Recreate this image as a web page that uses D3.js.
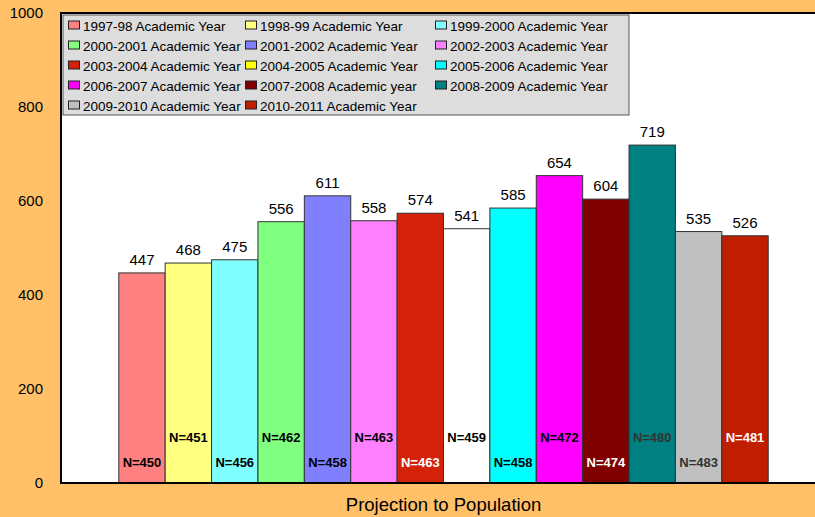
<!DOCTYPE html>
<html>
<head>
<meta charset="utf-8">
<script src="https://cdn.jsdelivr.net/npm/d3@7/dist/d3.min.js"></script>
<style>
  body { margin: 0; background: #FFC068; }
  svg { display: block; font-family: Arial, "Liberation Sans", sans-serif; }
</style>
</head>
<body>
<svg id="chart" width="815" height="517"></svg>
<script>
// academic years, one bar each
var years = [
  "1997-98 Academic Year", "1998-99 Academic Year", "1999-2000 Academic Year",
  "2000-2001 Academic Year", "2001-2002 Academic Year", "2002-2003 Academic Year",
  "2003-2004 Academic Year", "2004-2005 Academic Year", "2005-2006 Academic Year",
  "2006-2007 Academic Year", "2007-2008 Academic year", "2008-2009 Academic Year",
  "2009-2010 Academic Year", "2010-2011 Academic Year"
];
var values = [447, 468, 475, 556, 611, 558, 574, 541, 585, 654, 604, 719, 535, 526];
var sampleN = [450, 451, 456, 462, 458, 463, 463, 459, 458, 472, 474, 480, 483, 481];
var category = ["Projection to Population"];
var yTicks = [0, 200, 400, 600, 800, 1000];

var legendColors = ["#FF8080", "#FFFF80", "#80FFFF", "#80FF80", "#8080FF", "#FF80FF",
  "#D4220A", "#FFFF00", "#00FFFF", "#FF00FF", "#800000", "#008080", "#C0C0C0", "#BF1F00"];
// the 2004-2005 bar is drawn white in the original even though its key is yellow
var barColors = legendColors.slice();
barColors[7] = "#FFFFFF";
var nColors = ["#000", "#000", "#000", "#000", "#000", "#000", "#fff",
  "#000", "#000", "#000", "#fff", "#333", "#333", "#fff"];

var svg = d3.select("#chart");
var plot = { left: 61, top: 13, right: 826, bottom: 483 };

// plot background
svg.append("rect")
  .attr("x", plot.left).attr("y", plot.top)
  .attr("width", plot.right - plot.left).attr("height", plot.bottom - plot.top)
  .attr("fill", "#fff");

var y = d3.scaleLinear().domain([0, 1000]).range([plot.bottom, plot.top]);

var x0 = d3.scaleBand()
  .domain(category)
  .range([plot.left, plot.right])
  .paddingOuter(0.089);

var x1 = d3.scaleBand()
  .domain(years)
  .range([0, x0.bandwidth()]);

var g = svg.append("g").attr("transform", "translate(" + x0(category[0]) + ",0)");

g.selectAll(".bar")
  .data(values)
  .enter().append("rect")
  .attr("class", "bar")
  .attr("x", function(d, i) { return x1(years[i]); })
  .attr("y", function(d) { return y(d); })
  .attr("width", x1.bandwidth())
  .attr("height", function(d) { return y(0) - y(d); })
  .attr("fill", function(d, i) { return barColors[i]; })
  .attr("stroke", "#333")
  .attr("stroke-width", 1);

// value labels
g.selectAll(".val")
  .data(values)
  .enter().append("text")
  .attr("class", "val")
  .attr("x", function(d, i) { return x1(years[i]) + x1.bandwidth() / 2; })
  .attr("y", function(d) { return y(d) - 8; })
  .attr("text-anchor", "middle")
  .style("font-size", "15px")
  .attr("fill", "#000")
  .text(function(d) { return d; });

// N labels, alternate low/high
g.selectAll(".nlab")
  .data(sampleN)
  .enter().append("text")
  .attr("class", "nlab")
  .attr("x", function(d, i) { return x1(years[i]) + x1.bandwidth() / 2; })
  .attr("y", function(d, i) { return i % 2 === 0 ? 467 : 442; })
  .attr("text-anchor", "middle")
  .style("font-size", "13px")
  .style("font-weight", "bold")
  .attr("fill", function(d, i) { return nColors[i]; })
  .text(function(d) { return "N=" + d; });

// plot frame (left, top, bottom)
svg.append("path")
  .attr("d", "M" + plot.right + "," + plot.top + "H" + plot.left + "V" + plot.bottom + "H" + plot.right)
  .attr("fill", "none")
  .attr("stroke", "#000")
  .attr("stroke-width", 2);

// y axis
var yAxis = svg.append("g")
  .attr("transform", "translate(" + plot.left + ",0)")
  .call(d3.axisLeft(y).tickValues(yTicks).tickFormat(d3.format("d")).tickSize(0).tickPadding(18));
yAxis.select(".domain").remove();
yAxis.selectAll("text").style("font-size", "15px").style("font-family", "Arial, 'Liberation Sans', sans-serif").attr("fill", "#000");

// x axis title
var xAxis = svg.append("g")
  .attr("transform", "translate(0," + plot.bottom + ")")
  .call(d3.axisBottom(x0).tickSize(0).tickPadding(15));
xAxis.select(".domain").remove();
xAxis.selectAll("text").style("font-size", "18.5px").style("font-family", "Arial, 'Liberation Sans', sans-serif").attr("fill", "#000");

// legend
var legend = svg.append("g");
legend.append("rect")
  .attr("x", 63).attr("y", 15)
  .attr("width", 566).attr("height", 100)
  .attr("fill", "#DDDDDD")
  .attr("stroke", "#555")
  .attr("stroke-width", 1);

var colX = [68, 245, 435];
var item = legend.selectAll(".item")
  .data(years)
  .enter().append("g")
  .attr("class", "item")
  .attr("transform", function(d, i) {
    return "translate(" + colX[i % 3] + "," + (25.5 + 20 * Math.floor(i / 3)) + ")";
  });
item.append("rect")
  .attr("x", 0.5).attr("y", -4.5)
  .attr("width", 11).attr("height", 8)
  .attr("fill", function(d, i) { return legendColors[i]; })
  .attr("stroke", "#222")
  .attr("stroke-width", 1);
item.append("text")
  .attr("x", 15)
  .attr("y", 5)
  .style("font-size", "13.5px")
  .attr("fill", "#000")
  .text(function(d) { return d; });
</script>
</body>
</html>
